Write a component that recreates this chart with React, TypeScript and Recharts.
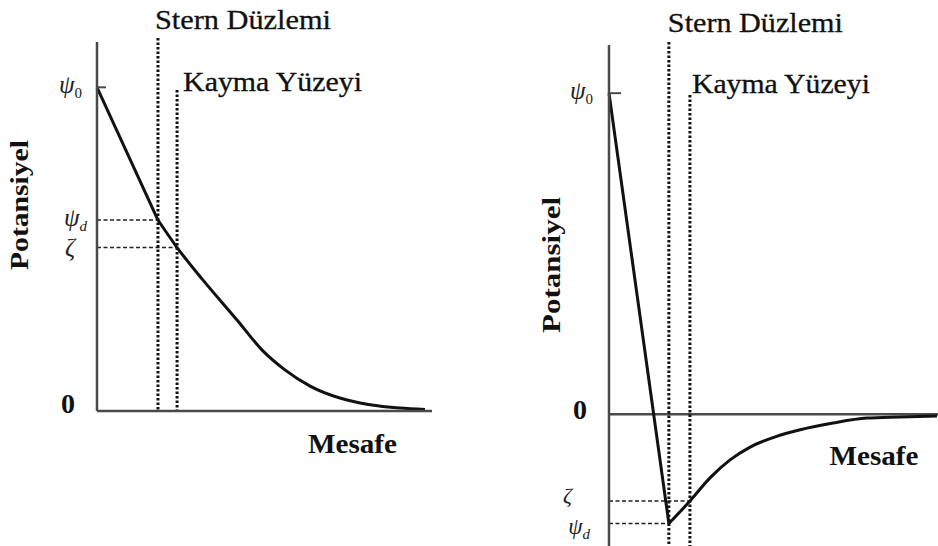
import React from 'react';
import { LineChart, Line, XAxis, YAxis, ReferenceLine, Label } from 'recharts';

const SERIF = '"Liberation Serif", "Times New Roman", serif';
const INK = '#111';
const AXIS = '#4a4a4a';

// Left panel: potential falls steadily from the surface to zero
const leftSternDistance = [0, 18.2];
const leftSternPotential = [100, 59];
const leftDiffuseDistance = [18.2, 23.9, 31.6, 41.8, 49.3, 56.1, 63.6, 72.5, 81.5, 90.4, 97.9];
const leftDiffusePotential = [59, 50.5, 40.5, 28.1, 18.8, 12.7, 7.7, 4.0, 1.9, 0.9, 0.5];
const leftTickValues = [100, 59, 50.5, 0]; // ψ0, ψd, ζ, 0
const leftPlanes = [18.2, 23.9]; // Stern plane, slipping surface
const leftPlaneTops = [115.2, 99.2];

// Right panel: charge reversal, potential overshoots below zero
const rightSternDistance = [0, 18.2];
const rightSternPotential = [100, -34];
const rightDiffuseDistance = [18.2, 24.6, 30.7, 36.8, 42.9, 50.5, 58.1, 68.1, 78.4, 88.4, 99.7];
const rightDiffusePotential = [-34, -27, -19.8, -14.2, -10.2, -7.0, -4.8, -2.7, -1.15, -0.8, -0.5];
const rightTickValues = [100, -34, -27, 0]; // ψ0, ψd, ζ, 0
const rightPlanes = [18.2, 24.6];
const rightPlaneTops = [115.9, 99.4];

const tickSymbols = ['ψ', 'ψ', 'ζ', '0'];
const tickSubscripts = ['0', 'd', '', ''];
const planeNames = ['Stern Düzlemi', 'Kayma Yüzeyi'];
const axisTitles = ['Potansiyel', 'Mesafe'];

const toPoints = (xs: number[], ys: number[]) => xs.map((d, i) => ({ d, p: ys[i] }));

type Place = { dx: number; dy: number; size: number };

function makeTick(values: number[], places: Place[], markLen: number) {
  return (props: any) => {
    const { x, y, payload } = props;
    const i = values.indexOf(payload.value);
    if (i < 0) return null;
    const pl = places[i];
    if (tickSymbols[i] === '0') {
      return (
        <text x={x + pl.dx} y={y + pl.dy} textAnchor="middle" fontFamily={SERIF}
          fontWeight="bold" fontSize={pl.size} fill={INK}>0</text>
      );
    }
    const sub = tickSubscripts[i];
    return (
      <g>
        {i === 0 && <line x1={x} x2={x + markLen} y1={y} y2={y} stroke={AXIS} strokeWidth={2} />}
        <text x={x + pl.dx} y={y + pl.dy} textAnchor="end" fontFamily={SERIF}
          fontStyle="italic" fontSize={pl.size} fill="#222">
          {tickSymbols[i]}
          {sub && (
            <tspan fontSize={15} dy={5} fontStyle={sub === '0' ? 'normal' : 'italic'}>{sub}</tspan>
          )}
        </text>
      </g>
    );
  };
}

function planeLabel(name: string, dx: number, dy: number, len: number) {
  return (props: any) => {
    const vb = props.viewBox || {};
    return (
      <text x={vb.x + dx} y={vb.y + dy} fontFamily={SERIF} fontSize={26.5} fill={INK}
        stroke={INK} strokeWidth={0.3}
        textLength={len} lengthAdjust="spacingAndGlyphs">{name}</text>
    );
  };
}

function distanceTitle(dx: number, dy: number) {
  return (props: any) => {
    const vb = props.viewBox || {};
    return (
      <text x={vb.x + dx} y={vb.y + dy} textAnchor="middle" fontFamily={SERIF}
        fontWeight="bold" fontSize={27} fill={INK} textLength={89}
        lengthAdjust="spacingAndGlyphs">{axisTitles[1]}</text>
    );
  };
}

function potentialTitle(bx: number, cy: number, len: number) {
  return () => (
    <text x={bx} y={cy} textAnchor="middle" fontFamily={SERIF} fontWeight="bold"
      fontSize={26} fill={INK} transform={`rotate(-90, ${bx}, ${cy})`}
      textLength={len} lengthAdjust="spacingAndGlyphs">{axisTitles[0]}</text>
  );
}

const dotted = { stroke: INK, strokeWidth: 3, strokeDasharray: '2.5 2' };
const dashed = { stroke: '#222', strokeWidth: 1.6, strokeDasharray: '4 2.5' };

function LeftPanel() {
  const places: Place[] = [
    { dx: -15, dy: 6, size: 25 },
    { dx: -10, dy: 6, size: 25 },
    { dx: -22, dy: 8, size: 25 },
    { dx: -29, dy: 2, size: 28 },
  ];
  return (
    <LineChart width={469} height={546} margin={{ top: 42, right: 37, bottom: 105, left: 57 }}>
      <XAxis type="number" dataKey="d" domain={[0, 100]} height={30} tick={false} tickLine={false}
        axisLine={{ stroke: AXIS, strokeWidth: 2.5 }}>
        <Label content={distanceTitle(255.5, 42)} />
      </XAxis>
      <YAxis type="number" dataKey="p" domain={[0, 114]} width={40} ticks={leftTickValues} interval={0}
        tickSize={0} tickMargin={0} tickLine={false} tick={makeTick(leftTickValues, places, 9)}
        axisLine={{ stroke: AXIS, strokeWidth: 2.5 }}>
        <Label content={potentialTitle(28, 205, 130)} />
      </YAxis>
      <ReferenceLine ifOverflow="visible" {...dashed}
        segment={[{ x: 0, y: leftTickValues[1] }, { x: leftPlanes[0], y: leftTickValues[1] }]} />
      <ReferenceLine ifOverflow="visible" {...dashed}
        segment={[{ x: 0, y: leftTickValues[2] }, { x: leftPlanes[1], y: leftTickValues[2] }]} />
      <ReferenceLine ifOverflow="visible" {...dotted}
        segment={[{ x: leftPlanes[0], y: leftPlaneTops[0] }, { x: leftPlanes[0], y: 0 }]}>
        <Label content={planeLabel(planeNames[0], -3, -9, 176)} />
      </ReferenceLine>
      <ReferenceLine ifOverflow="visible" {...dotted}
        segment={[{ x: leftPlanes[1], y: leftPlaneTops[1] }, { x: leftPlanes[1], y: 0 }]}>
        <Label content={planeLabel(planeNames[1], 6, 1, 179)} />
      </ReferenceLine>
      <Line data={toPoints(leftSternDistance, leftSternPotential)} dataKey="p" type="linear"
        stroke={INK} strokeWidth={3} dot={false} isAnimationActive={false} />
      <Line data={toPoints(leftDiffuseDistance, leftDiffusePotential)} dataKey="p" type="monotone"
        stroke={INK} strokeWidth={3} dot={false} isAnimationActive={false} />
    </LineChart>
  );
}

function RightPanel() {
  const places: Place[] = [
    { dx: -16, dy: 6, size: 25 },
    { dx: -19, dy: 10, size: 23 },
    { dx: -37, dy: 2, size: 22 },
    { dx: -29, dy: 5, size: 28 },
  ];
  return (
    <LineChart width={469} height={546} margin={{ top: 45, right: 0, bottom: 0, left: 100 }}>
      <XAxis type="number" dataKey="d" domain={[0, 100]} hide />
      <YAxis type="number" dataKey="p" domain={[-41, 115]} width={40} ticks={rightTickValues} interval={0}
        tickSize={0} tickMargin={0} tickLine={false} tick={makeTick(rightTickValues, places, 12)}
        axisLine={{ stroke: AXIS, strokeWidth: 2.5 }}>
        <Label content={potentialTitle(91, 265, 136)} />
      </YAxis>
      <ReferenceLine y={0} stroke={AXIS} strokeWidth={2.5}>
        <Label content={distanceTitle(265, 51)} />
      </ReferenceLine>
      <ReferenceLine ifOverflow="visible" {...dashed}
        segment={[{ x: 0, y: rightTickValues[1] }, { x: rightPlanes[0], y: rightTickValues[1] }]} />
      <ReferenceLine ifOverflow="visible" {...dashed}
        segment={[{ x: 0, y: rightTickValues[2] }, { x: rightPlanes[1], y: rightTickValues[2] }]} />
      <ReferenceLine ifOverflow="visible" {...dotted}
        segment={[{ x: rightPlanes[0], y: rightPlaneTops[0] }, { x: rightPlanes[0], y: -41 }]}>
        <Label content={planeLabel(planeNames[0], -1, -10, 175)} />
      </ReferenceLine>
      <ReferenceLine ifOverflow="visible" {...dotted}
        segment={[{ x: rightPlanes[1], y: rightPlaneTops[1] }, { x: rightPlanes[1], y: -41 }]}>
        <Label content={planeLabel(planeNames[1], 2, -2, 178)} />
      </ReferenceLine>
      <Line data={toPoints(rightSternDistance, rightSternPotential)} dataKey="p" type="linear"
        stroke={INK} strokeWidth={3} dot={false} isAnimationActive={false} />
      <Line data={toPoints(rightDiffuseDistance, rightDiffusePotential)} dataKey="p" type="monotone"
        stroke={INK} strokeWidth={3} dot={false} isAnimationActive={false} />
    </LineChart>
  );
}

export default function App() {
  return (
    <div style={{ position: 'absolute', left: 0, top: 0, width: 938, height: 546, background: '#fff', overflow: 'hidden' }}>
      <div style={{ position: 'absolute', left: 0, top: 0 }}>
        <LeftPanel />
      </div>
      <div style={{ position: 'absolute', left: 469, top: 0 }}>
        <RightPanel />
      </div>
    </div>
  );
}
